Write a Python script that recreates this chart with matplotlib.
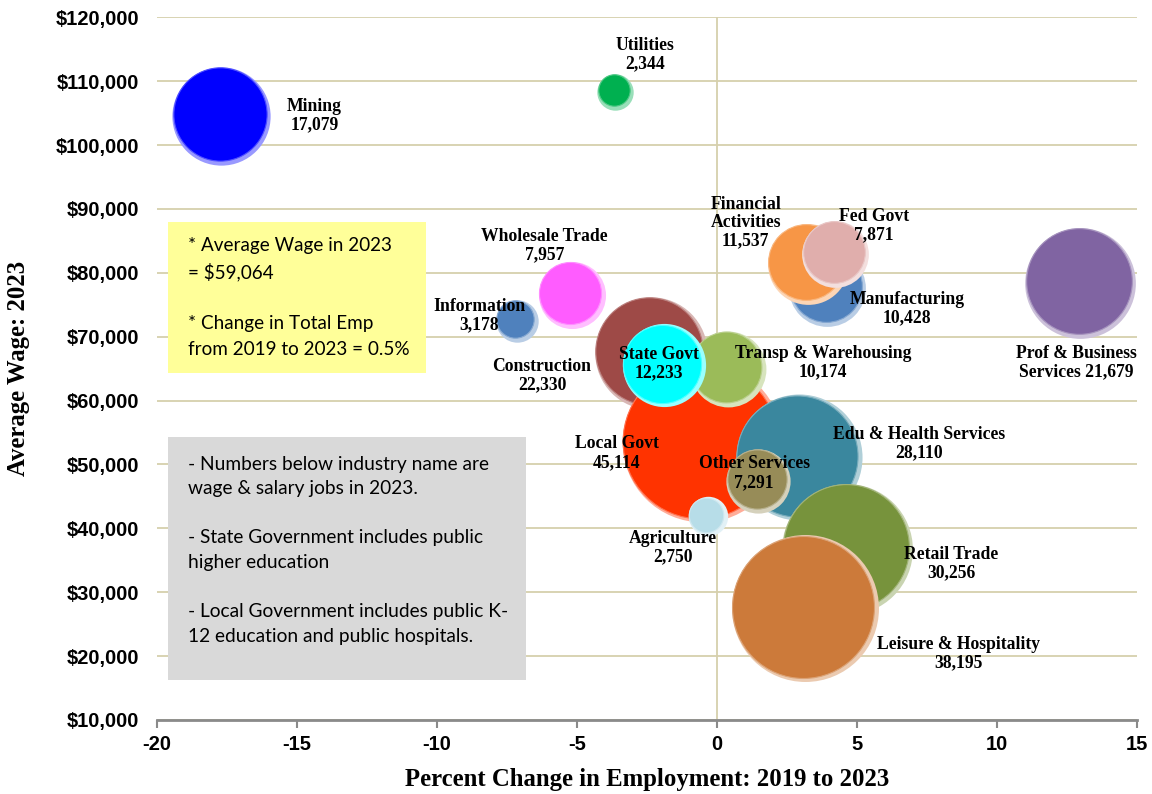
import matplotlib.pyplot as plt
import matplotlib.transforms as mtransforms
import matplotlib.colors as mcolors
from matplotlib.patches import Rectangle
from matplotlib.ticker import FuncFormatter
import numpy as np

plt.rcParams['axes.unicode_minus'] = False

# dados (ordem = ordem de desenho)
setores = ['Mining', 'Utilities', 'Wholesale Trade', 'Information', 'Construction',
           'Local Govt', 'Transp & Warehousing', 'State Govt', 'Edu & Health Services',
           'Other Services', 'Agriculture', 'Retail Trade', 'Leisure & Hospitality',
           'Manufacturing', 'Financial\nActivities', 'Fed Govt', 'Prof & Business\nServices']
variacao = [-17.7, -3.63, -5.19, -7.16, -2.36, -0.54, 0.39, -1.91, 2.92,
            1.47, -0.34, 4.65, 3.13, 3.94, 3.24, 4.22, 12.97]
salario = [104600, 108300, 76600, 72500, 67500, 53500, 65000, 65500, 51100,
           47400, 41900, 36800, 27500, 77700, 81400, 83000, 78400]
empregos = [17079, 2344, 7957, 3178, 22330, 45114, 10174, 12233, 28110,
            7291, 2750, 30256, 38195, 10428, 11537, 7871, 21679]

cores = ['#0000ff', '#00b050', '#ff5cff', '#4f81bd', '#9e4a47', '#ff3300', '#9bbb59',
         '#00ffff', '#3a879e', '#978c58', '#b7dde8', '#77933c', '#cc7a3a',
         '#4f81bd', '#f79646', '#e0aeac', '#8064a2']
# deslocamento dos rotulos em pixels (dx, dy para baixo)
desloc = [(93, 0), (30, -37), (-27, -49), (-37, -5), (-109, 23), (-85, 11), (95, -6),
          (-5, -2), (120, -14), (-4, -8), (-35, 31), (104, 15), (154, 45), (80, 21),
          (-62, -41), (39, -28), (-4, 80)]
separador = ['\n'] * 16 + [' ']

fig = plt.figure(figsize=(11.52, 7.94), dpi=100)
ax = fig.add_axes([0.1363, 0.0932, 0.8507, 0.8850])

grade = '#d6d0ad'
ax.set_xlim(-20, 15)
ax.set_ylim(10000, 120000)
ax.set_yticks(np.arange(10000, 120001, 10000))
ax.set_xticks(np.arange(-20, 16, 5))
ax.yaxis.grid(True, color=grade, linewidth=1.3, zorder=0)
ax.set_axisbelow(True)
ax.axvline(0, color=grade, linewidth=1.3, zorder=0.5)
for lado in ['left', 'right', 'top']:
    ax.spines[lado].set_visible(False)
ax.spines['bottom'].set_color('#8a8a8a')
ax.spines['bottom'].set_linewidth(2)
ax.tick_params(axis='y', length=0, pad=13)
ax.tick_params(axis='x', direction='out', length=6, width=1.5, color='#8a8a8a', pad=5)
ax.yaxis.set_major_formatter(FuncFormatter(lambda v, p: f'${v:,.0f}'))
for t in ax.get_xticklabels() + ax.get_yticklabels():
    t.set_fontfamily('Liberation Sans')
    t.set_fontweight('bold')
    t.set_fontsize(14.5)

k = 0.72  # pontos por pixel
for i in range(len(setores)):
    r = 0.376 * np.sqrt(empregos[i])
    c = np.array(mcolors.to_rgb(cores[i]))
    claro = c + (1 - c) * 0.6
    z = 2 + i
    ax.scatter(variacao[i], salario[i], s=(2 * r * k) ** 2, color=claro, linewidths=0, zorder=z)
    tr = mtransforms.offset_copy(ax.transData, fig=fig, x=-1.6 * k, y=1.6 * k, units='points')
    ax.scatter(variacao[i], salario[i], s=((2 * r - 5) * k) ** 2, color=c, linewidths=0.8,
               edgecolors=[c + (1 - c) * 0.3], zorder=z + 0.5, transform=tr)

for i in range(len(setores)):
    dx, dy = desloc[i]
    texto = setores[i] + separador[i] + f'{empregos[i]:,}'
    ax.annotate(texto, (variacao[i], salario[i]), xytext=(dx * k, -dy * k),
                textcoords='offset points', ha='center', va='center', fontsize=12.7,
                fontweight='bold', fontfamily='Liberation Serif', linespacing=1.1, zorder=40)

# caixas de texto
ax.add_patch(Rectangle((0.0112, 0.4938), 0.2633, 0.2149, transform=ax.transAxes,
                       facecolor='#ffff99', edgecolor='none', zorder=30))
ax.text(0.0316, 0.688, '* Average Wage in 2023\n= $59,064\n\n* Change in Total Emp\nfrom 2019 to 2023 = 0.5%',
        transform=ax.transAxes, va='top', ha='left', fontsize=13.6, fontfamily='Lato',
        linespacing=1.6, zorder=31)
ax.add_patch(Rectangle((0.0112, 0.0569), 0.3653, 0.3458, transform=ax.transAxes,
                       facecolor='#d9d9d9', edgecolor='none', zorder=30))
ax.text(0.0316, 0.376, '- Numbers below industry name are\nwage & salary jobs in 2023.\n\n'
        '- State Government includes public\nhigher education\n\n'
        '- Local Government includes public K-\n12 education and public hospitals.',
        transform=ax.transAxes, va='top', ha='left', fontsize=13.8, fontfamily='Lato',
        linespacing=1.54, zorder=31)

ax.set_xlabel('Percent Change in Employment: 2019 to 2023', fontsize=17.8, fontweight='bold',
              fontfamily='Liberation Serif', labelpad=10)
ax.set_ylabel('Average Wage: 2023', fontsize=17.8, fontweight='bold',
              fontfamily='Liberation Serif', labelpad=18)

plt.savefig('out.png', dpi=100)
